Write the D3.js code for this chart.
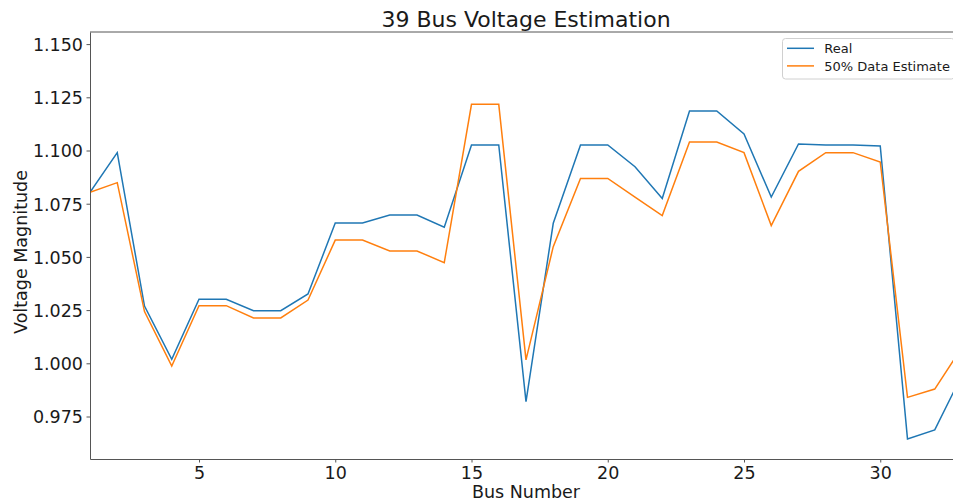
<!DOCTYPE html>
<html>
<head>
<meta charset="utf-8">
<script src="https://cdn.jsdelivr.net/npm/d3@7"></script>
<style>
  body { margin: 0; background: #fff; overflow: hidden; }
  svg { display: block; font-family: "DejaVu Sans", sans-serif; }
</style>
</head>
<body>
<svg id="chart" width="953" height="503"></svg>
<script>
// bus numbers visible in the picture (1..33)
let buses = d3.range(1, 34);

let realV = [1.0804, 1.0990, 1.0269, 1.0019, 1.0301, 1.0301, 1.0247, 1.0247, 1.0326, 1.0659,
  1.0659, 1.0697, 1.0697, 1.0640, 1.1026, 1.1026, 0.9820, 1.0658, 1.1026, 1.1026,
  1.0924, 1.0775, 1.1186, 1.1186, 1.1078, 1.0781, 1.1031, 1.1026, 1.1026, 1.1021,
  0.9644, 0.9687, 0.9945];

let estV = [1.0804, 1.0849, 1.0243, 0.9987, 1.0271, 1.0271, 1.0213, 1.0213, 1.0297, 1.0579,
  1.0579, 1.0528, 1.0528, 1.0473, 1.1217, 1.1217, 1.0016, 1.0548, 1.0869, 1.0869,
  1.0781, 1.0694, 1.1040, 1.1040, 1.0990, 1.0647, 1.0902, 1.0990, 1.0990, 1.0946,
  0.9840, 0.9879, 1.0075];

let xTicks = [5, 10, 15, 20, 25, 30];
let yTicks = [0.975, 1.000, 1.025, 1.050, 1.075, 1.100, 1.125, 1.150];

let seriesInfo = [
  { name: "Real", values: realV, color: "#1f77b4" },
  { name: "50% Data Estimate", values: estV, color: "#ff7f0e" }
];

let margin = { top: 32, left: 90 };
let plotW = 872, plotH = 427;

let svg = d3.select("#chart");
let g = svg.append("g").attr("transform", `translate(${margin.left}, ${margin.top})`);

let xScale = d3.scaleLinear().domain([1, 33]).range([0, plotW]);
let yScale = d3.scaleLinear().domain([0.95503, 1.15569]).range([plotH, 0]);

g.append("clipPath").attr("id", "clip")
  .append("rect").attr("width", plotW).attr("height", plotH);

/**
 * lines
 */
let line = d3.line()
  .x((d, i) => xScale(buses[i]))
  .y(d => yScale(d));

for (var i = 0; i < seriesInfo.length; i++) {
  g.append("path")
    .datum(seriesInfo[i].values)
    .attr("clip-path", "url(#clip)")
    .attr("fill", "none")
    .attr("stroke", seriesInfo[i].color)
    .attr("stroke-width", 1.5)
    .attr("stroke-linejoin", "miter")
    .attr("d", line);
}

/**
 * axes
 */
let xAxis = g.append("g")
  .attr("transform", `translate(0, ${plotH})`)
  .call(d3.axisBottom(xScale).tickValues(xTicks).tickSizeInner(3.5).tickSizeOuter(0).tickPadding(4));

let yAxis = g.append("g")
  .call(d3.axisLeft(yScale).tickValues(yTicks).tickFormat(d3.format(".3f"))
    .tickSizeInner(3.5).tickSizeOuter(0).tickPadding(3.5));

[xAxis, yAxis].forEach(function(ax) {
  ax.select(".domain").attr("stroke", "#555").attr("stroke-width", 1);
  ax.selectAll(".tick line").attr("stroke", "#555");
  ax.selectAll(".tick text")
    .style("font-size", "17.5px")
    .style("font-family", "DejaVu Sans")
    .attr("fill", "#1a1a1a");
});
yAxis.selectAll(".tick text").attr("dy", "0.36em");
xAxis.selectAll(".tick text").attr("dy", "0.72em");

// top spine
g.append("line")
  .attr("x1", 0).attr("x2", plotW)
  .attr("y1", 0).attr("y2", 0)
  .attr("stroke", "#555").attr("stroke-width", 1);

/**
 * labels
 */
svg.append("text")
  .attr("x", margin.left + plotW / 2)
  .attr("y", 26.5)
  .attr("text-anchor", "middle")
  .style("font-size", "22px")
  .attr("fill", "#1a1a1a")
  .text("39 Bus Voltage Estimation");

svg.append("text")
  .attr("x", margin.left + plotW / 2)
  .attr("y", 498)
  .attr("text-anchor", "middle")
  .style("font-size", "17.5px")
  .attr("fill", "#1a1a1a")
  .text("Bus Number");

svg.append("text")
  .attr("transform", "translate(27, 252) rotate(-90)")
  .attr("text-anchor", "middle")
  .style("font-size", "17.5px")
  .attr("fill", "#1a1a1a")
  .text("Voltage Magnitude");

/**
 * legend
 */
let legend = svg.append("g");
legend.append("rect")
  .attr("x", 782.5).attr("y", 38.5)
  .attr("width", 172).attr("height", 40.5)
  .attr("rx", 3)
  .attr("fill", "#fff").attr("fill-opacity", 0.8)
  .attr("stroke", "#d0d0d0");

for (var i = 0; i < seriesInfo.length; i++) {
  let ly = 48.3 + i * 17.6;
  legend.append("line")
    .attr("x1", 787).attr("x2", 814)
    .attr("y1", ly).attr("y2", ly)
    .attr("stroke", seriesInfo[i].color)
    .attr("stroke-width", 1.5);
  legend.append("text")
    .attr("x", 824.3).attr("y", ly + 5)
    .style("font-size", "13px")
    .attr("fill", "#1a1a1a")
    .text(seriesInfo[i].name);
}
</script>
</body>
</html>
